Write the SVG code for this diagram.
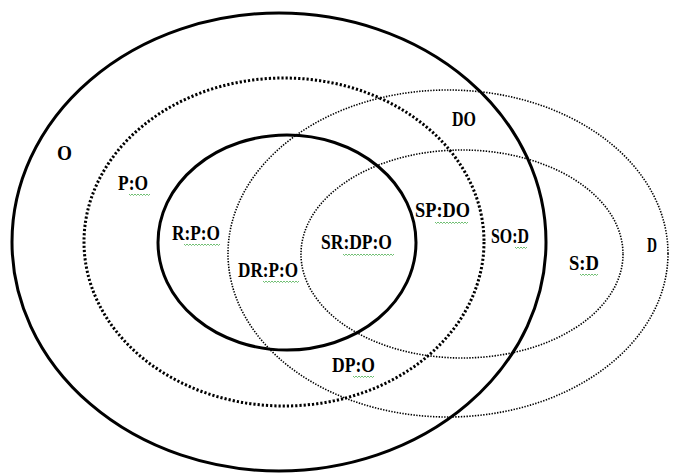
<svg xmlns="http://www.w3.org/2000/svg" width="678" height="475" viewBox="0 0 678 475">
<style>
.solid{fill:none;stroke:#000;stroke-width:3}
.heavy{fill:none;stroke:#000;stroke-width:3;stroke-dasharray:2.2 2}
.fine{fill:none;stroke:#000;stroke-width:1.6;stroke-dasharray:1.4 1.4}
.lbl{font-family:"Liberation Serif","Times New Roman",serif;font-weight:bold;font-size:21px;fill:#000}
.sq{fill:none;stroke:#4caf50;stroke-width:0.8}
</style>
<rect width="678" height="475" fill="#fff"/>
<g id="set-O"><ellipse class="solid" cx="279" cy="242" rx="267" ry="229"/></g>
<g id="set-P"><ellipse class="heavy" cx="284" cy="242" rx="200" ry="164"/></g>
<g id="set-R"><ellipse class="solid" cx="287" cy="242.5" rx="129" ry="107.5"/></g>
<g id="set-D"><ellipse class="fine" cx="448" cy="253.5" rx="220" ry="163.5"/></g>
<g id="set-S"><ellipse class="fine" cx="462" cy="254" rx="161" ry="104"/></g>
<g id="labels">
<text class="lbl" x="57" y="160" textLength="15" lengthAdjust="spacingAndGlyphs">O</text>
<text class="lbl" x="452" y="126" textLength="24" lengthAdjust="spacingAndGlyphs">DO</text>
<text class="lbl" x="118" y="190" textLength="30" lengthAdjust="spacingAndGlyphs">P:O</text>
<text class="lbl" x="172" y="240" textLength="48" lengthAdjust="spacingAndGlyphs">R:P:O</text>
<text class="lbl" x="415" y="217" textLength="55" lengthAdjust="spacingAndGlyphs">SP:DO</text>
<text class="lbl" x="491" y="243" textLength="38" lengthAdjust="spacingAndGlyphs">SO:D</text>
<text class="lbl" x="647" y="252" textLength="10" lengthAdjust="spacingAndGlyphs">D</text>
<text class="lbl" x="321" y="249" textLength="71" lengthAdjust="spacingAndGlyphs">SR:DP:O</text>
<text class="lbl" x="238" y="277" textLength="60" lengthAdjust="spacingAndGlyphs">DR:P:O</text>
<text class="lbl" x="569" y="270" textLength="30" lengthAdjust="spacingAndGlyphs">S:D</text>
<text class="lbl" x="332" y="372" textLength="43" lengthAdjust="spacingAndGlyphs">DP:O</text>
</g>
<g id="squiggles">
<path class="sq" d="M129 194 l1.5 1.5 l1.5 -1.5 l1.5 1.5 l1.5 -1.5 l1.5 1.5 l1.5 -1.5 l1.5 1.5 l1.5 -1.5 l1.5 1.5 l1.5 -1.5 l1.5 1.5 l1.5 -1.5 l1.5 1.5 l1.5 -1.5"/>
<path class="sq" d="M184 244 l1.5 1.5 l1.5 -1.5 l1.5 1.5 l1.5 -1.5 l1.5 1.5 l1.5 -1.5 l1.5 1.5 l1.5 -1.5 l1.5 1.5 l1.5 -1.5 l1.5 1.5 l1.5 -1.5 l1.5 1.5 l1.5 -1.5 l1.5 1.5 l1.5 -1.5 l1.5 1.5 l1.5 -1.5 l1.5 1.5 l1.5 -1.5 l1.5 1.5 l1.5 -1.5 l1.5 1.5 l1.5 -1.5"/>
<path class="sq" d="M343 254 l1.5 1.5 l1.5 -1.5 l1.5 1.5 l1.5 -1.5 l1.5 1.5 l1.5 -1.5 l1.5 1.5 l1.5 -1.5 l1.5 1.5 l1.5 -1.5 l1.5 1.5 l1.5 -1.5 l1.5 1.5 l1.5 -1.5 l1.5 1.5 l1.5 -1.5 l1.5 1.5 l1.5 -1.5 l1.5 1.5 l1.5 -1.5 l1.5 1.5 l1.5 -1.5 l1.5 1.5 l1.5 -1.5 l1.5 1.5 l1.5 -1.5 l1.5 1.5 l1.5 -1.5 l1.5 1.5 l1.5 -1.5 l1.5 1.5 l1.5 -1.5 l1.5 1.5 l1.5 -1.5"/>
<path class="sq" d="M435 222 l1.5 1.5 l1.5 -1.5 l1.5 1.5 l1.5 -1.5 l1.5 1.5 l1.5 -1.5 l1.5 1.5 l1.5 -1.5 l1.5 1.5 l1.5 -1.5 l1.5 1.5 l1.5 -1.5 l1.5 1.5 l1.5 -1.5 l1.5 1.5 l1.5 -1.5 l1.5 1.5 l1.5 -1.5 l1.5 1.5 l1.5 -1.5 l1.5 1.5 l1.5 -1.5"/>
<path class="sq" d="M515 247 l1.5 1.5 l1.5 -1.5 l1.5 1.5 l1.5 -1.5 l1.5 1.5 l1.5 -1.5 l1.5 1.5 l1.5 -1.5"/>
<path class="sq" d="M263 281 l1.5 1.5 l1.5 -1.5 l1.5 1.5 l1.5 -1.5 l1.5 1.5 l1.5 -1.5 l1.5 1.5 l1.5 -1.5 l1.5 1.5 l1.5 -1.5 l1.5 1.5 l1.5 -1.5 l1.5 1.5 l1.5 -1.5 l1.5 1.5 l1.5 -1.5 l1.5 1.5 l1.5 -1.5 l1.5 1.5 l1.5 -1.5 l1.5 1.5 l1.5 -1.5 l1.5 1.5 l1.5 -1.5"/>
<path class="sq" d="M580 274 l1.5 1.5 l1.5 -1.5 l1.5 1.5 l1.5 -1.5 l1.5 1.5 l1.5 -1.5 l1.5 1.5 l1.5 -1.5 l1.5 1.5 l1.5 -1.5 l1.5 1.5 l1.5 -1.5"/>
<path class="sq" d="M353 376 l1.5 1.5 l1.5 -1.5 l1.5 1.5 l1.5 -1.5 l1.5 1.5 l1.5 -1.5 l1.5 1.5 l1.5 -1.5 l1.5 1.5 l1.5 -1.5 l1.5 1.5 l1.5 -1.5 l1.5 1.5 l1.5 -1.5"/>
</g>
</svg>
